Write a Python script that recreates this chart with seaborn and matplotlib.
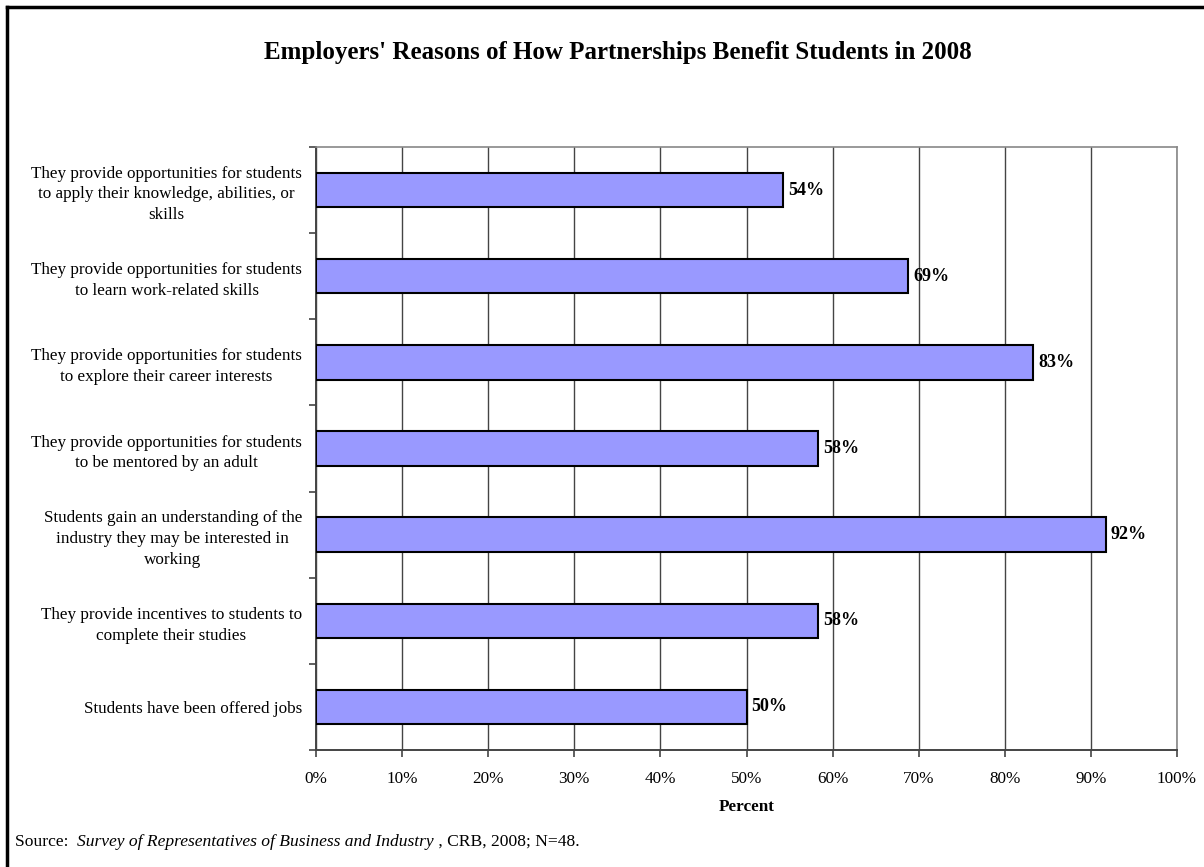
import matplotlib
matplotlib.use("Agg")
import matplotlib.pyplot as plt
import seaborn as sns
import pandas as pd
from matplotlib.lines import Line2D
from matplotlib.ticker import FixedLocator, PercentFormatter

categories = [
    "They provide opportunities for students\nto apply their knowledge, abilities, or\nskills",
    "They provide opportunities for students\nto learn work-related skills",
    "They provide opportunities for students\nto explore their career interests",
    "They provide opportunities for students\nto be mentored by an adult",
    "Students gain an understanding of the\nindustry they may be interested in\nworking",
    "They provide incentives to students to\ncomplete their studies",
    "Students have been offered jobs",
]
values = [54.2, 68.8, 83.3, 58.3, 91.7, 58.3, 50.0]
labels = ["54%", "69%", "83%", "58%", "92%", "58%", "50%"]
xticks = [0, 10, 20, 30, 40, 50, 60, 70, 80, 90, 100]

sns.set_theme(style="white")
plt.rcParams['font.family'] = ['Liberation Serif', 'DejaVu Serif']
plt.rcParams['text.color'] = 'black'
plt.rcParams['xtick.color'] = 'black'
plt.rcParams['ytick.color'] = 'black'
plt.rcParams['axes.labelcolor'] = 'black'

df = pd.DataFrame({"cat": categories, "val": values})

W, H = 1204, 867
fig = plt.figure(figsize=(W / 100, H / 100), dpi=100)
L, R, T, B = 316, 1177, 147, 750
ax = fig.add_axes([L / W, 1 - B / H, (R - L) / W, (B - T) / H])

sns.barplot(data=df, y="cat", x="val", orient="h", color="#9999FF",
            saturation=1, edgecolor="black", linewidth=1.5, width=0.4, ax=ax, zorder=3)

ax.set_xlim(0, 100)
ax.set_ylim(len(categories) - 0.5, -0.5)
ax.xaxis.set_major_locator(FixedLocator(xticks))
ax.xaxis.set_major_formatter(PercentFormatter(decimals=0))
ax.grid(axis="x", color="#444444", linewidth=1.0, zorder=0)
ax.grid(axis="y", visible=False)
ax.set_axisbelow(True)

for s in ["top", "right"]:
    ax.spines[s].set_color("#888888")
    ax.spines[s].set_linewidth(1.2)
for s in ["left", "bottom"]:
    ax.spines[s].set_color("#444444")
    ax.spines[s].set_linewidth(1.4)

ax.tick_params(axis="x", which="major", direction="out", length=5, width=1.2,
               color="#444444", labelsize=12.3, pad=10, bottom=True)
ax.tick_params(axis="y", which="major", length=0, labelsize=12.3, pad=10)
ax.set_yticks(range(len(categories)))
ax.set_yticklabels(categories, multialignment="center", linespacing=1.4)
ax.set_yticks([i - 0.5 for i in range(len(categories) + 1)], minor=True)
ax.tick_params(axis="y", which="minor", direction="out", length=5, width=1.2,
               color="#444444", left=True)

ax.set_xlabel("Percent", fontsize=12.3, fontweight="bold", labelpad=9)
ax.set_ylabel("")

for i, (v, lab) in enumerate(zip(values, labels)):
    ax.text(v + 0.6, i, lab, va="center", ha="left", fontsize=13,
            fontweight="bold", zorder=5)

fig.text(618 / W, 1 - 52 / H, "Employers' Reasons of How Partnerships Benefit Students in 2008",
         ha="center", va="center", fontsize=18, fontweight="bold")

sy = 1 - 842 / H
src1 = fig.text(15 / W, sy, "Source:  ", ha="left", va="center", fontsize=12.6)
fig.canvas.draw()
x1 = src1.get_window_extent().x1 / fig.bbox.width
src2 = fig.text(x1, sy, "Survey of Representatives of Business and Industry",
                ha="left", va="center", fontsize=12.6, style="italic")
fig.canvas.draw()
x2 = src2.get_window_extent().x1 / fig.bbox.width
fig.text(x2, sy, " , CRB, 2008; N=48.", ha="left", va="center", fontsize=12.6)

# frame: visible only on top and left edges (figure crops the rest)
fig.add_artist(Line2D([6.5 / W, 6.5 / W], [0, 1 - 6.5 / H], transform=fig.transFigure,
                      color="black", linewidth=2.5, solid_capstyle="projecting"))
fig.add_artist(Line2D([6.5 / W, 1], [1 - 6.5 / H, 1 - 6.5 / H], transform=fig.transFigure,
                      color="black", linewidth=2.5, solid_capstyle="projecting"))

fig.savefig("out.png", dpi=100)
